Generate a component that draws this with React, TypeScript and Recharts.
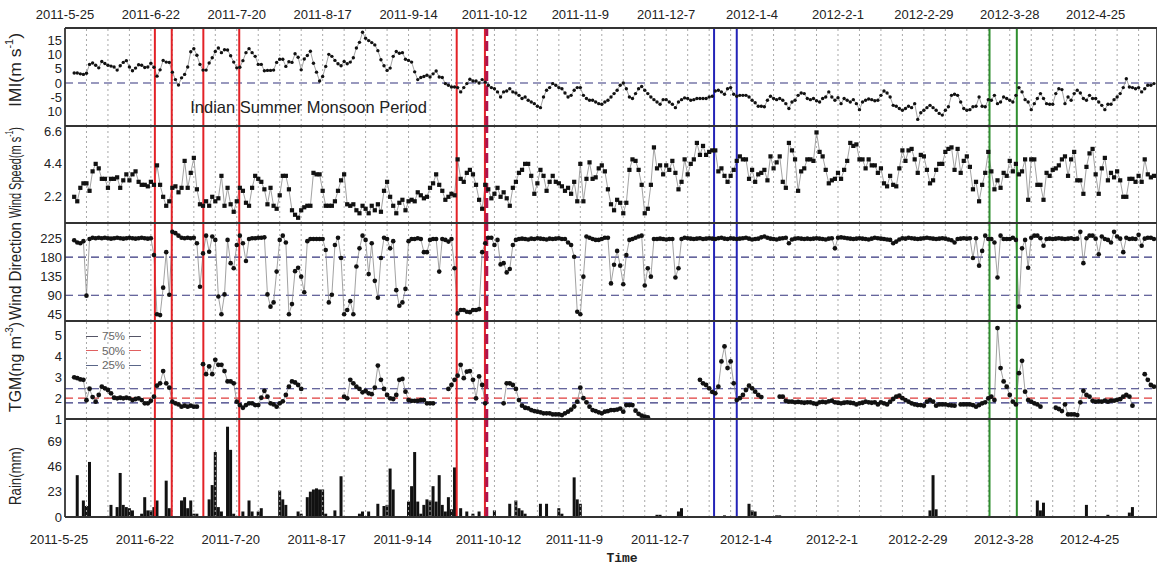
import React from 'react';
import {
  ComposedChart, Line, Bar, XAxis, YAxis, ReferenceLine, ReferenceDot, Legend,
} from 'recharts';

// ---------- categories / ticks ----------
const FIRST_DAY = 3; // first observation = 3 days after 2011-5-25
const X_DOMAIN: [number, number] = [0, 356];
const dateLabels = ['2011-5-25', '2011-6-22', '2011-7-20', '2011-8-17', '2011-9-14', '2011-10-12', '2011-11-9', '2011-12-7', '2012-1-4', '2012-2-1', '2012-2-29', '2012-3-28', '2012-4-25'];
const labelDays = [0, 28, 56, 84, 112, 140, 168, 196, 224, 252, 280, 308, 336];
const weekDays = [0, 7, 14, 21, 28, 35, 42, 49, 56, 63, 70, 77, 84, 91, 98, 105, 112, 119, 126, 133, 140, 147, 154, 161, 168, 175, 182, 189, 196, 203, 210, 217, 224, 231, 238, 245, 252, 259, 266, 273, 280, 287, 294, 301, 308, 315, 322, 329, 336, 343, 350];

// ---------- series (one value per day, from day 3 to day 355) ----------
const imi = [
  3.5, 3.5, 3.2, 3.0, 3.4, 6.5, 7.0, 6.2, 5.3, 7.5,
  6.8, 6.2, 5.9, 5.6, 4.5, 6.0, 7.2, 7.8, 5.6, 4.3,
  5.2, 6.4, 6.2, 5.4, 5.6, 6.9, 5.5, 2.4, 4.6, 7.9,
  7.3, 7.2, 3.8, 1.2, -0.7, 1.8, 3.0, 5.6, 10.9, 12.0,
  9.7, 6.5, 4.5, 4.5, 7.0, 8.8, 11.0, 12.2, 10.6, 11.6,
  11.5, 9.5, 7.3, 5.3, 5.5, 7.8, 10.6, 12.0, 10.6, 9.3,
  6.5, 6.5, 4.3, 4.4, 4.4, 4.5, 7.2, 8.3, 8.3, 5.8,
  7.4, 7.2, 10.2, 9.0, 4.6, 8.4, 9.6, 11.1, 6.9, 3.8,
  0.7, 2.3, 5.8, 10.0, 9.3, 7.9, 6.7, 6.0, 7.5, 6.7,
  7.3, 8.8, 12.2, 14.2, 17.7, 15.6, 14.8, 14.1, 13.3, 11.3,
  8.1, 6.0, 4.4, 5.2, 9.3, 11.0, 10.4, 10.6, 8.3, 7.9,
  7.3, 3.9, 1.2, 1.9, 2.3, 2.7, 2.1, 3.2, 4.2, 2.1,
  1.9, -0.2, -0.8, -1.4, -1.4, -1.6, -3.1, -1.6, -0.2, 1.3,
  0.7, 0.7, 0.0, 1.2, 0.3, -0.8, -1.6, -2.0, -3.1, -4.9,
  -3.1, -2.8, -2.0, -3.1, -3.5, -4.3, -5.4, -4.9, -6.0, -6.6,
  -7.2, -8.1, -8.6, -4.9, -2.5, -1.6, -0.2, -0.8, -1.6, -2.0,
  -3.5, -4.9, -4.3, -2.5, -1.6, -1.6, -4.3, -5.4, -6.0, -6.0,
  -6.6, -7.2, -7.4, -6.6, -6.0, -4.9, -3.7, -2.5, -0.8, 0.0,
  -2.0, -4.9, -5.4, -3.7, -2.0, -1.2, -2.5, -3.7, -4.9, -5.8,
  -6.6, -7.4, -5.8, -5.8, -6.6, -7.4, -8.6, -6.6, -5.8, -5.2,
  -5.4, -6.0, -5.8, -5.4, -5.4, -5.4, -5.4, -4.9, -4.6, -2.8,
  -2.5, -3.1, -3.9, -2.0, -1.6, -3.9, -4.6, -4.3, -4.3, -4.3,
  -4.9, -6.0, -6.9, -8.1, -8.1, -8.3, -6.0, -4.6, -5.4, -5.8,
  -5.4, -6.0, -7.2, -8.9, -6.6, -6.0, -4.3, -3.5, -3.7, -5.4,
  -5.8, -5.4, -6.2, -6.6, -5.4, -4.9, -3.1, -4.9, -6.0, -5.1,
  -7.2, -5.4, -6.0, -6.6, -5.8, -7.2, -9.3, -6.6, -6.0, -5.6,
  -5.8, -6.2, -6.0, -4.3, -2.8, -3.5, -4.9, -7.8, -8.1, -8.9,
  -9.5, -8.9, -8.1, -8.6, -7.2, -12.7, -10.4, -9.5, -8.6, -7.8,
  -8.6, -9.5, -10.6, -11.2, -9.5, -8.3, -4.3, -3.9, -4.3, -6.6,
  -8.9, -9.5, -9.3, -8.3, -8.1, -4.9, -8.1, -8.3, -5.8, -6.0,
  -4.3, -7.2, -6.6, -4.9, -5.4, -6.0, -6.6, -4.3, -1.6, -3.1,
  -5.8, -6.6, -9.3, -7.2, -5.4, -3.7, -5.4, -7.2, -7.4, -7.4,
  -3.7, -2.0, -2.3, -7.2, -4.9, -6.0, -3.7, -2.5, -3.5, -5.4,
  -6.0, -4.3, -5.4, -5.4, -6.6, -7.8, -9.3, -7.4, -7.4, -5.8,
  -4.9, -3.7, -1.6, 1.5, -1.4, -1.6, -2.0, -1.6, -3.1, -2.0,
  -0.8, -0.8, -0.2,
];

const windSpeed = [
  2.2, 1.9, 2.8, 3.1, 3.1, 2.6, 3.9, 4.4, 4.1, 3.4,
  3.4, 2.8, 3.4, 3.4, 3.5, 2.8, 3.3, 3.7, 3.3, 3.7,
  3.9, 3.2, 3.0, 3.0, 2.9, 3.2, 3.0, 4.3, 3.0, 2.2,
  1.6, 1.9, 2.8, 2.9, 2.5, 2.8, 4.6, 2.8, 3.8, 4.8,
  2.7, 1.7, 1.6, 1.9, 1.6, 2.2, 1.9, 2.1, 3.6, 1.6,
  2.8, 1.7, 1.2, 1.9, 2.8, 2.6, 1.8, 1.6, 2.8, 3.6,
  3.4, 3.2, 2.7, 1.7, 2.8, 1.6, 1.4, 2.3, 3.6, 3.6,
  2.7, 1.3, 1.0, 0.8, 1.3, 1.5, 1.6, 1.6, 3.8, 3.7,
  3.7, 2.6, 1.6, 1.6, 1.6, 1.9, 2.6, 3.3, 3.7, 1.7,
  1.6, 1.7, 1.3, 1.1, 1.6, 1.4, 1.1, 1.6, 1.3, 1.7,
  1.2, 2.6, 3.2, 2.2, 1.6, 1.1, 1.8, 2.0, 1.3, 1.9,
  2.0, 1.9, 2.5, 2.3, 2.1, 2.2, 2.8, 3.1, 3.7, 3.0,
  2.6, 2.0, 2.2, 2.4, 2.3, 4.7, 3.4, 3.2, 3.8, 4.0,
  3.7, 3.0, 2.0, 1.4, 3.0, 2.7, 2.1, 2.4, 2.8, 2.2,
  2.5, 2.1, 1.6, 2.8, 3.2, 3.8, 4.0, 4.4, 4.4, 3.6,
  2.4, 3.1, 4.0, 3.6, 2.6, 3.2, 3.6, 3.2, 3.1, 2.9,
  2.6, 2.8, 2.4, 3.2, 1.9, 4.4, 1.9, 3.4, 4.5, 3.4,
  3.5, 4.1, 4.3, 3.9, 2.7, 1.7, 1.3, 2.0, 1.8, 1.1,
  1.8, 4.0, 4.7, 4.6, 4.0, 3.0, 1.1, 1.4, 3.0, 5.5,
  4.1, 4.3, 3.7, 4.3, 4.0, 4.6, 3.8, 2.7, 3.2, 4.7,
  3.7, 4.4, 4.7, 5.8, 5.0, 5.6, 5.0, 5.2, 5.3, 5.3,
  3.9, 4.1, 3.6, 3.2, 3.6, 4.0, 4.6, 4.9, 4.7, 4.7,
  3.4, 4.0, 3.2, 3.7, 3.8, 4.0, 3.3, 4.9, 4.1, 4.5,
  4.9, 3.2, 2.8, 5.8, 5.3, 4.7, 2.6, 3.9, 4.1, 4.7,
  4.7, 4.6, 6.5, 5.2, 4.9, 4.0, 3.1, 3.3, 3.4, 3.8,
  3.4, 4.0, 4.6, 5.8, 5.6, 5.7, 4.7, 4.7, 4.1, 4.7,
  4.3, 4.3, 3.8, 4.1, 3.1, 2.9, 3.6, 3.0, 2.9, 4.1,
  5.3, 4.6, 5.3, 5.4, 4.7, 3.8, 5.0, 4.9, 4.0, 3.1,
  3.3, 4.0, 4.4, 4.4, 5.2, 5.4, 5.5, 4.0, 5.4, 3.8,
  4.6, 4.9, 4.2, 2.7, 3.2, 1.9, 3.0, 3.8, 5.2, 3.9,
  2.7, 3.3, 2.8, 3.8, 3.6, 4.6, 3.9, 4.4, 3.7, 3.9,
  4.7, 2.0, 4.7, 4.7, 3.0, 3.0, 2.0, 3.8, 3.6, 4.0,
  4.1, 4.3, 4.7, 4.9, 3.6, 4.7, 5.2, 3.3, 3.3, 2.4,
  4.2, 5.1, 5.4, 3.7, 2.4, 4.1, 4.8, 3.3, 3.8, 3.5,
  3.9, 3.3, 2.2, 2.2, 3.4, 3.4, 3.2, 3.6, 3.2, 4.7,
  3.7, 3.5, 3.6,
];

const windDir = [
  220, 215, 213, 218, 89, 223, 226, 225, 226, 225,
  226, 225, 224, 225, 226, 225, 224, 225, 226, 225,
  224, 225, 226, 225, 224, 225, 185, 45, 43, 108,
  192, 91, 240, 237, 231, 226, 225, 226, 225, 226,
  213, 110, 189, 231, 193, 229, 221, 87, 45, 92,
  221, 166, 154, 209, 231, 213, 171, 223, 225, 225,
  226, 226, 227, 92, 63, 73, 146, 221, 231, 215,
  45, 69, 147, 155, 134, 97, 218, 223, 223, 223,
  223, 223, 197, 73, 91, 209, 226, 178, 45, 55,
  76, 45, 158, 201, 231, 221, 140, 213, 124, 84,
  178, 226, 223, 201, 218, 102, 65, 73, 105, 218,
  223, 223, 225, 223, 192, 192, 221, 223, 223, 146,
  223, 221, 217, 223, 154, 47, 55, 55, 51, 50,
  55, 55, 57, 192, 213, 226, 226, 209, 221, 163,
  166, 144, 152, 209, 221, 223, 224, 223, 222, 224,
  223, 225, 224, 223, 222, 224, 223, 224, 225, 223,
  223, 215, 209, 181, 51, 45, 134, 229, 226, 223,
  221, 221, 223, 226, 226, 118, 162, 195, 160, 116,
  185, 221, 223, 226, 229, 231, 113, 154, 134, 223,
  223, 224, 223, 222, 223, 223, 132, 154, 223, 226,
  225, 224, 223, 224, 225, 223, 224, 225, 224, 223,
  225, 226, 224, 223, 225, 224, 223, 224, 225, 226,
  224, 222, 223, 224, 227, 229, 226, 224, 223, 222,
  224, 225, 226, 213, 222, 224, 225, 224, 223, 224,
  223, 224, 225, 224, 223, 222, 224, 225, 201, 226,
  227, 226, 225, 224, 223, 224, 225, 224, 223, 222,
  224, 226, 225, 224, 223, 222, 221, 213, 217, 222,
  225, 224, 226, 225, 224, 223, 224, 225, 226, 225,
  224, 223, 224, 225, 224, 222, 220, 215, 223, 224,
  225, 224, 225, 178, 225, 160, 195, 231, 223, 223,
  215, 132, 231, 223, 223, 223, 226, 221, 63, 201,
  221, 155, 226, 231, 231, 225, 207, 223, 224, 223,
  224, 225, 224, 223, 224, 225, 223, 224, 240, 166,
  225, 231, 231, 224, 187, 229, 223, 221, 215, 240,
  229, 224, 192, 226, 223, 224, 223, 233, 207, 224,
  226, 226, 223,
];

const tgm = [
  3.0, 2.96, 2.9, 2.88, 1.9, 2.45, 2.05, 1.83, 2.15, 2.55,
  2.47, 2.39, 2.23, 2.02, 1.99, 2.02, 1.99, 2.02, 1.99, 1.91,
  1.96, 1.99, 1.91, 1.75, 1.75, 1.87, 2.07, 2.6, 2.71, 3.3,
  2.71, 2.5, 1.83, 1.75, 1.7, 1.59, 1.64, 1.59, 1.64, 1.59,
  1.59, null, 3.63, 3.15, 3.52, 3.15, 3.84, 3.6, 3.6, 3.3,
  2.8, 2.8, 2.71, 1.83, 1.67, 1.54, 1.67, 1.75, 1.75, 1.67,
  1.67, 2.02, 2.35, 2.07, 1.75, 1.7, 1.59, 1.75, 1.85, 2.15,
  2.55, 2.8, 2.75, 2.63, 2.44, null, null, null, null, null,
  null, null, null, null, null, null, null, null, 2.07, 1.99,
  2.88, 2.71, 2.55, 2.44, 2.28, 2.35, 2.23, 2.19, 2.5, 3.56,
  2.88, 2.44, 2.15, 1.99, 1.96, 2.15, 2.88, 2.92, 2.31, 1.91,
  1.87, 1.87, 1.87, 1.91, 1.91, 1.75, 1.75, 1.75, null, null,
  null, null, 2.44, 2.63, 2.88, 3.08, 3.6, 2.96, 3.27, 3.3,
  2.88, 1.99, 3.04, 2.63, 1.75, null, null, null, null, null,
  1.75, 2.71, 2.71, 2.63, 2.44, 1.91, 1.64, 1.54, 1.51, 1.43,
  1.38, 1.35, 1.32, 1.27, 1.27, 1.27, 1.22, 1.22, 1.22, 1.19,
  1.27, 1.35, 1.45, 1.6, 1.83, 2.5, 2.0, 1.8, 1.59, 1.43,
  1.38, 1.32, 1.27, 1.35, 1.38, 1.43, 1.43, 1.45, 1.5, 1.35,
  1.67, 1.67, 1.67, 1.4, 1.25, 1.16, 1.11, 1.08, null, null,
  null, null, null, null, null, null, null, null, null, null,
  null, null, null, null, 2.88, 2.71, 2.63, 2.47, 2.3, 2.23,
  2.55, 3.76, 4.48, 3.44, 3.76, 2.71, 1.91, 2.0, 2.15, 2.39,
  2.6, 2.47, 2.31, 2.15, 2.05, null, null, null, null, null,
  2.07, 2.07, 1.87, 1.83, 1.83, 1.8, 1.82, 1.8, 1.78, 1.8,
  1.8, 1.75, 1.72, 1.8, 1.82, 1.8, 1.85, 1.88, 1.8, 1.78,
  1.75, 1.78, 1.8, 1.78, 1.76, 1.7, 1.75, 1.78, 1.83, 1.8,
  1.78, 1.8, 1.7, 1.8, 1.75, 1.7, 1.83, 1.96, 2.07, 2.12,
  2.0, 1.91, 1.83, 1.75, 1.7, 1.67, 1.67, 1.64, 1.83, 1.91,
  1.83, 1.64, 1.7, 1.7, 1.7, 1.67, 1.65, 1.64, null, 1.7,
  1.7, 1.7, 1.7, 1.67, 1.59, 1.67, 1.75, 1.8, 1.99, 2.07,
  1.91, 5.36, 3.44, 2.8, 2.55, 2.15, 1.83, 1.7, 3.2, 3.79,
  2.31, 1.91, 1.83, 1.75, 1.7, 1.59, null, null, null, null,
  1.54, 1.48, 1.38, 1.7, 1.22, 1.22, 1.22, 1.19, 1.8, 2.35,
  2.15, 2.07, 1.87, 1.83, 1.85, 1.83, 1.88, 1.83, 1.88, 1.88,
  1.92, 1.95, 2.07, 2.15, 2.07, 1.64, null, null, null, 3.15,
  2.88, 2.63, 2.55,
];

const rain = [
  0, 38, 0, 15, 10, 50, 0, 0, 0, 0,
  0, 0, 11, 0, 9, 40, 11, 9, 8, 6,
  0, 0, 3, 18, 6, 6, 9, 15, 0, 0,
  33, 8, 0, 0, 0, 15, 18, 8, 15, 3,
  3, 0, 0, 0, 16, 29, 59, 9, 5, 0,
  82, 61, 3, 0, 0, 5, 0, 15, 5, 0,
  5, 8, 0, 0, 0, 0, 0, 24, 16, 11,
  0, 0, 0, 5, 3, 0, 18, 23, 25, 26,
  25, 25, 3, 0, 0, 6, 0, 37, 0, 0,
  0, 0, 0, 3, 5, 0, 5, 0, 0, 12,
  0, 10, 11, 44, 25, 0, 0, 0, 0, 14,
  28, 59, 14, 3, 11, 16, 15, 28, 14, 38,
  11, 5, 18, 7, 45, 0, 8, 0, 5, 0,
  3, 0, 5, 0, 0, 0, 0, 6, 0, 0,
  0, 0, 12, 0, 15, 8, 6, 3, 0, 0,
  0, 0, 12, 0, 12, 0, 0, 0, 8, 3,
  0, 0, 0, 36, 16, 12, 0, 0, 0, 0,
  0, 0, 0, 0, 0, 0, 0, 0, 0, 0,
  0, 0, 0, 0, 0, 0, 0, 0, 0, 0,
  2, 2, 0, 0, 0, 0, 0, 5, 8, 0,
  0, 0, 0, 0, 0, 0, 0, 0, 0, 0,
  0, 0, 1.5, 0, 0, 0, 0, 0, 0, 0,
  12, 6, 5, 0, 0, 0, 0, 0, 0, 1.5,
  1.5, 0, 0, 0, 0, 0, 0, 0, 0, 0,
  0, 0, 0, 0, 0, 0, 0, 0, 0, 0,
  0, 0, 0, 0, 0, 0, 0, 0, 0, 0,
  0, 0, 0, 0, 0, 0, 0, 0, 0, 0,
  0, 0, 0, 0, 0, 0, 0, 0, 0, 6,
  38, 7, 0, 0, 0, 0, 0, 0, 0, 0,
  0, 0, 0, 0, 0, 0, 0, 0, 0, 0,
  0, 0, 0, 0, 0, 0, 0, 0, 0, 0,
  0, 0, 0, 0, 15, 6, 13, 0, 0, 0,
  0, 0, 0, 0, 0, 0, 0, 0, 0, 0,
  11, 0, 0, 0, 0, 0, 0, 2, 0, 0,
  0, 0, 0, 0, 4, 9, 0, 0, 0, 0,
  0, 0, 0,
];

// ---------- annotations ----------
const quartiles = [
  { name: '75%', value: 2.45, color: '#34347e', legendColor: '#555566' },
  { name: '50%', value: 2.0, color: '#e03c3c', legendColor: '#e06060' },
  { name: '25%', value: 1.77, color: '#34347e', legendColor: '#5a6688' },
];
const boxes = [
  { from: 29.3, to: 34.8, color: '#e32227' },
  { from: 45.1, to: 56.8, color: '#e32227' },
  { from: 127.7, to: 136.9, color: '#e32227' },
  { from: 211.6, to: 219.0, color: '#2424b8' },
  { from: 301.4, to: 310.3, color: '#2f8f2f' },
];
const dashedMarkDay = 137.5;
const monsoonText = { day: 79.4, imi: -8.4, text: 'Indian Summer Monsoon Period' };

const rows = imi.map((v, i) => ({
  day: FIRST_DAY + i,
  imi: v,
  ws: windSpeed[i],
  wd: windDir[i],
  tgm: tgm[i],
  rain: rain[i],
}));

const FRAME = '#333333';
const NAVY = '#34347e';
const FONT = "'Liberation Sans', Arial, sans-serif";

// ---------- helpers ----------
function YTitle(props: any) {
  const vb = props.viewBox || {};
  const cx = (vb.x ?? 0) + 15;
  const cy = (vb.y ?? 0) + (vb.height ?? 0) / 2 + (props.shift || 0);
  return (
    <text
      x={cx}
      y={cy}
      transform={`rotate(-90 ${cx} ${cy})`}
      textAnchor="middle"
      dominantBaseline="central"
      fontSize={16}
      fill="#222"
      fontFamily={FONT}
      textLength={props.len}
      lengthAdjust="spacingAndGlyphs"
    >
      {props.main}
      {props.sup ? <tspan fontSize={10} dy={-6}>{props.sup}</tspan> : null}
      {props.sup ? <tspan dy={6}>{props.tail}</tspan> : null}
    </text>
  );
}

function TimeLabel(props: any) {
  const vb = props.viewBox || {};
  const cx = (vb.x ?? 0) + (vb.width ?? 0) / 2 + 11;
  const y = (vb.y ?? 0) + (vb.height ?? 0) - 4;
  return (
    <text x={cx} y={y} textAnchor="middle" fontSize={13} fontWeight="bold" fontFamily="'Liberation Mono', 'DejaVu Sans Mono', monospace" fill="#222">
      Time
    </text>
  );
}

const squareDot = (p: any) => {
  const { cx, cy, index } = p;
  if (cx == null || cy == null || Number.isNaN(cx) || Number.isNaN(cy)) return <g key={`sq-${index}`} />;
  return <rect key={`sq-${index}`} x={cx - 2.1} y={cy - 2.1} width={4.2} height={4.2} fill="#111" />;
};

const QuartileLegend = () => (
  <div style={{ display: 'flex', flexDirection: 'column', fontFamily: FONT }}>
    {quartiles.map((q) => (
      <div key={q.name} style={{ display: 'flex', alignItems: 'center', height: 14.5, fontSize: 11.5, color: '#666' }}>
        <span style={{ display: 'inline-block', width: 12, borderTop: `1px solid ${q.legendColor}`, marginRight: 4 }} />
        <span>{q.name}</span>
        <span style={{ display: 'inline-block', width: 12, borderTop: `1px solid ${q.legendColor}`, marginLeft: 4 }} />
      </div>
    ))}
  </div>
);

type PanelCfg = {
  domain: [number, number];
  labelTicks: number[];
  minorTicks: number[];
  fmt: (v: number) => string;
  title: { main: string; sup?: string; tail?: string; len: number; shift: number };
};

function frameAxes(cfg: PanelCfg) {
  const grid = weekDays.slice(1).map((d) => (
    <ReferenceLine key={`g${d}`} x={d} stroke="#a8a8a8" strokeDasharray="2 3" strokeWidth={1} />
  ));
  return [
    ...grid,
    <XAxis key="xb" xAxisId={0} dataKey="day" type="number" domain={X_DOMAIN} ticks={weekDays} interval={0}
      orientation="bottom" mirror height={1} tick={false} tickSize={4} tickLine={{ stroke: FRAME }}
      axisLine={{ stroke: FRAME, strokeWidth: 1.8 }} allowDataOverflow />,
    <XAxis key="xt" xAxisId="t" dataKey="day" type="number" domain={X_DOMAIN} ticks={weekDays} interval={0}
      orientation="top" mirror height={1} tick={false} tickSize={4} tickLine={{ stroke: FRAME }}
      axisLine={{ stroke: FRAME, strokeWidth: 1.8 }} allowDataOverflow />,
    <YAxis key="yl" yAxisId={0} type="number" domain={cfg.domain} ticks={cfg.labelTicks} interval={0}
      tickFormatter={cfg.fmt} width={65} tickLine={false} tickSize={0} tickMargin={3}
      axisLine={{ stroke: FRAME, strokeWidth: 1.8 }} tick={{ fontSize: 13, fill: '#222', fontFamily: FONT }}
      allowDataOverflow
      label={<YTitle main={cfg.title.main} sup={cfg.title.sup} tail={cfg.title.tail} len={cfg.title.len} shift={cfg.title.shift} />} />,
    <YAxis key="ylm" yAxisId="lm" type="number" domain={cfg.domain} ticks={cfg.minorTicks} interval={0}
      orientation="left" mirror width={1} tick={false} tickSize={4} tickLine={{ stroke: FRAME }} axisLine={false} allowDataOverflow />,
    <YAxis key="yrm" yAxisId="rm" type="number" domain={cfg.domain} ticks={cfg.minorTicks} interval={0}
      orientation="right" mirror width={1} tick={false} tickSize={4} tickLine={{ stroke: FRAME }}
      axisLine={{ stroke: FRAME, strokeWidth: 1.8 }} allowDataOverflow />,
  ];
}

function boxSides() {
  const out: any[] = [];
  boxes.forEach((b, i) => {
    out.push(<ReferenceLine key={`bl${i}`} x={b.from} stroke={b.color} strokeWidth={2} />);
    out.push(<ReferenceLine key={`br${i}`} x={b.to} stroke={b.color} strokeWidth={2} />);
  });
  out.push(<ReferenceLine key="dash-mark" x={dashedMarkDay} stroke="#b0124c" strokeWidth={3} strokeDasharray="10 5" />);
  return out;
}

const panels: Record<string, PanelCfg> = {
  imi: {
    domain: [-15, 19.2], labelTicks: [15, 10, 5, 0, -5, -10], minorTicks: [15, 10, 5, 0, -5, -10],
    fmt: (v) => (v === -10 ? '10' : String(v)),
    title: { main: 'IMI(m s', sup: '-1', tail: ')', len: 74, shift: -7 },
  },
  ws: {
    domain: [0.45, 6.93], labelTicks: [2.2, 4.4, 6.6], minorTicks: [1.1, 2.2, 3.3, 4.4, 5.5, 6.6],
    fmt: (v) => v.toFixed(1),
    title: { main: 'Wind Speed(m s', sup: '-1', tail: ')', len: 91, shift: -2 },
  },
  wd: {
    domain: [29, 261], labelTicks: [45, 90, 135, 180, 225], minorTicks: [45, 67.5, 90, 112.5, 135, 157.5, 180, 202.5, 225, 247.5],
    fmt: (v) => String(v),
    title: { main: 'Wind Direction', len: 98, shift: -1 },
  },
  tgm: {
    domain: [1, 5.7], labelTicks: [1, 2, 3, 4, 5], minorTicks: [1, 1.5, 2, 2.5, 3, 3.5, 4, 4.5, 5, 5.5],
    fmt: (v) => String(v),
    title: { main: 'TGM(ng m', sup: '-3', tail: ')', len: 90, shift: -3 },
  },
  rain: {
    domain: [0, 89], labelTicks: [0, 23, 46, 69], minorTicks: [0, 11.5, 23, 34.5, 46, 57.5, 69, 80.5],
    fmt: (v) => String(v),
    title: { main: 'Rain(mm)', len: 58, shift: 8 },
  },
};

const ZERO = { top: 0, right: 0, bottom: 0, left: 0 };
const lineStyle = { stroke: '#8a8a8a', strokeWidth: 0.8 };

export default function App() {
  return (
    <div style={{ position: 'absolute', left: 0, top: 0, width: 1157, height: 566, background: '#fff', fontFamily: FONT }}>
      <style>{'.recharts-surface{overflow:visible}'}</style>

      {/* IMI */}
      <ComposedChart width={1157} height={126} data={rows} margin={ZERO}>
        {frameAxes(panels.imi)}
        <XAxis xAxisId="lab" dataKey="day" type="number" domain={X_DOMAIN} ticks={labelDays} interval={0}
          orientation="top" height={28} tickLine={false} axisLine={false} tickSize={0} tickMargin={9}
          tickFormatter={(v: number) => dateLabels[labelDays.indexOf(v)] ?? ''}
          tick={{ fontSize: 13, fill: '#222', fontFamily: FONT }} allowDataOverflow />
        <ReferenceLine y={0} stroke={NAVY} strokeWidth={1.2} strokeDasharray="8 5" />
        <Line type="linear" dataKey="imi" {...lineStyle} dot={{ r: 1.7, fill: '#111', stroke: '#111', strokeWidth: 0 }}
          activeDot={false} isAnimationActive={false} />
        <ReferenceDot x={monsoonText.day} y={monsoonText.imi} r={0} fill="none" stroke="none"
          label={{ value: monsoonText.text, position: 'center', fontSize: 16.5, fill: '#222', fontFamily: FONT }} />
        {boxSides()}
        {boxes.map((b, i) => (
          <ReferenceLine key={`top${i}`} segment={[{ x: b.from, y: 19.2 }, { x: b.to, y: 19.2 }]} stroke={b.color} strokeWidth={2} />
        ))}
      </ComposedChart>

      {/* Wind speed */}
      <ComposedChart width={1157} height={97} data={rows} margin={ZERO}>
        {frameAxes(panels.ws)}
        <Line type="linear" dataKey="ws" {...lineStyle} dot={squareDot} activeDot={false} isAnimationActive={false} />
        {boxSides()}
      </ComposedChart>

      {/* Wind direction */}
      <ComposedChart width={1157} height={98} data={rows} margin={ZERO}>
        {frameAxes(panels.wd)}
        <ReferenceLine y={180} stroke={NAVY} strokeWidth={1.2} strokeDasharray="8 5" />
        <ReferenceLine y={90} stroke={NAVY} strokeWidth={1.2} strokeDasharray="8 5" />
        <Line type="linear" dataKey="wd" {...lineStyle} dot={{ r: 2.3, fill: '#111', stroke: '#111', strokeWidth: 0 }}
          activeDot={false} isAnimationActive={false} />
        {boxSides()}
      </ComposedChart>

      {/* TGM */}
      <ComposedChart width={1157} height={98} data={rows} margin={ZERO}>
        {frameAxes(panels.tgm)}
        {quartiles.map((q) => (
          <ReferenceLine key={q.name} y={q.value} stroke={q.color} strokeWidth={1.2} strokeDasharray="8 5" />
        ))}
        <Line type="linear" dataKey="tgm" {...lineStyle} connectNulls={false}
          dot={{ r: 2.4, fill: '#111', stroke: '#111', strokeWidth: 0 }} activeDot={false} isAnimationActive={false} />
        <Legend layout="horizontal" verticalAlign="middle" align="center" content={<QuartileLegend />}
          wrapperStyle={{ left: 86, top: 8, width: 64 }} />
        {boxSides()}
      </ComposedChart>

      {/* Rain */}
      <ComposedChart width={1157} height={147} data={rows} margin={ZERO}>
        {frameAxes(panels.rain)}
        <XAxis xAxisId="lab" dataKey="day" type="number" domain={X_DOMAIN} ticks={labelDays} interval={0}
          orientation="bottom" height={49} tickLine={false} axisLine={false} tickSize={0} tickMargin={18}
          tickFormatter={(v: number) => dateLabels[labelDays.indexOf(v)] ?? ''}
          tick={{ fontSize: 13, fill: '#222', fontFamily: FONT, dx: -6 }} allowDataOverflow
          label={<TimeLabel />} />
        <Bar dataKey="rain" fill="#111" barSize={3} isAnimationActive={false} />
        {boxSides()}
        {boxes.map((b, i) => (
          <ReferenceLine key={`bot${i}`} segment={[{ x: b.from, y: 0 }, { x: b.to, y: 0 }]} stroke={b.color} strokeWidth={2} />
        ))}
      </ComposedChart>
    </div>
  );
}
